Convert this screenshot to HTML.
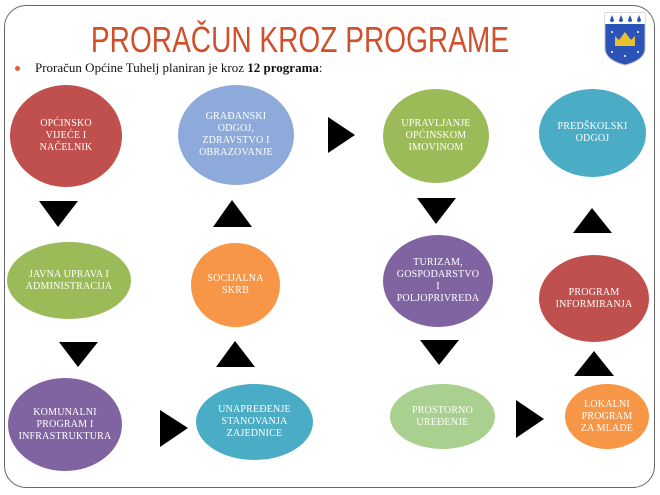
<!DOCTYPE html>
<html><head><meta charset="utf-8"><style>
body{margin:0;width:660px;height:495px;background:#fff;overflow:hidden;position:relative;font-family:"Liberation Serif",serif}
.frame{position:absolute;left:4px;top:5px;width:649px;height:481px;border:1.5px solid #666;border-radius:22px}
.title{position:absolute;left:0;width:600px;top:20px;text-align:center;font-family:"Liberation Sans",sans-serif;font-size:36px;line-height:40px;color:#d0502c;transform:scaleX(0.78);transform-origin:300px 0}
.sub{position:absolute;left:35px;top:60px;font-size:13px;color:#111}
.bul{position:absolute;left:15px;top:66px;width:5px;height:5px;border-radius:50%;background:#e0603a}
.n{position:absolute;border-radius:50%;display:flex;align-items:center;justify-content:center;text-align:center;color:#fff;font-size:10px;line-height:12px;letter-spacing:0.2px}
</style></head><body>
<div class="frame"></div>
<div class="title">PRORAČUN KROZ PROGRAME</div>
<div class="bul"></div>
<div class="sub">Proračun Općine Tuhelj planiran je kroz <b>12 programa</b>:</div>
<svg style="position:absolute;left:604px;top:12px" width="42" height="54" viewBox="0 0 42 54">
<path d="M1 1H41V36Q41 48 21 53Q1 48 1 36Z" fill="#2c54b8" stroke="#bbb" stroke-width="1"/>
<rect x="1" y="1" width="40" height="11" fill="#fff"/>
<path d="M8 3l-2 5a2 2 0 0 0 4 0z M17 3l-2 5a2 2 0 0 0 4 0z M26 3l-2 5a2 2 0 0 0 4 0z M35 3l-2 5a2 2 0 0 0 4 0z" fill="#2c54b8"/>
<path d="M11 34L11 24L15 28L21 20L27 28L31 24L31 34Z" fill="#e8c030"/>
<circle cx="8" cy="20" r="1" fill="#fff"/><circle cx="34" cy="20" r="1" fill="#fff"/><circle cx="8" cy="40" r="1" fill="#fff"/><circle cx="34" cy="40" r="1" fill="#fff"/><circle cx="21" cy="44" r="1" fill="#fff"/>
</svg>
<div class="n" style="left:10px;top:85px;width:112px;height:102px;background:#c0504d">OPĆINSKO<br>VIJEĆE I<br>NAČELNIK</div>
<div class="n" style="left:178px;top:85px;width:116px;height:100px;background:#8eaadb">GRAĐANSKI<br>ODGOJ,<br>ZDRAVSTVO I<br>OBRAZOVANJE</div>
<div class="n" style="left:383px;top:89px;width:106px;height:94px;background:#9bbb59">UPRAVLJANJE<br>OPĆINSKOM<br>IMOVINOM</div>
<div class="n" style="left:539px;top:89px;width:107px;height:88px;background:#4bacc6">PREDŠKOLSKI<br>ODGOJ</div>
<div class="n" style="left:7px;top:242px;width:124px;height:77px;background:#9bbb59">JAVNA UPRAVA I<br>ADMINISTRACIJA</div>
<div class="n" style="left:191px;top:243px;width:89px;height:84px;background:#f79646">SOCIJALNA<br>SKRB</div>
<div class="n" style="left:383px;top:235px;width:110px;height:92px;background:#8064a2">TURIZAM,<br>GOSPODARSTVO<br>I<br>POLJOPRIVREDA</div>
<div class="n" style="left:539px;top:255px;width:110px;height:87px;background:#c0504d">PROGRAM<br>INFORMIRANJA</div>
<div class="n" style="left:8px;top:378px;width:114px;height:93px;background:#8064a2">KOMUNALNI<br>PROGRAM I<br>INFRASTRUKTURA</div>
<div class="n" style="left:196px;top:384px;width:117px;height:76px;background:#4bacc6">UNAPREĐENJE<br>STANOVANJA<br>ZAJEDNICE</div>
<div class="n" style="left:390px;top:384px;width:105px;height:65px;background:#a9d08e">PROSTORNO<br>UREĐENJE</div>
<div class="n" style="left:565px;top:384px;width:84px;height:65px;background:#f79646">LOKALNI<br>PROGRAM<br>ZA MLADE</div>
<svg style="position:absolute;left:0;top:0" width="660" height="495">
<g fill="#000">
<polygon points="328,117 355,135 328,153"/>
<polygon points="39,201 78,201 58,227"/>
<polygon points="213,227 252,227 232,200"/>
<polygon points="417,198 456,198 436,224"/>
<polygon points="573,233 612,233 592,208"/>
<polygon points="59,342 98,342 78,367"/>
<polygon points="216,367 255,367 235,341"/>
<polygon points="420,340 459,340 439,365"/>
<polygon points="574,376 614,376 594,351"/>
<polygon points="160,410 188,428 160,447"/>
<polygon points="516,400 544,419 516,438"/>
</g></svg>
</body></html>
